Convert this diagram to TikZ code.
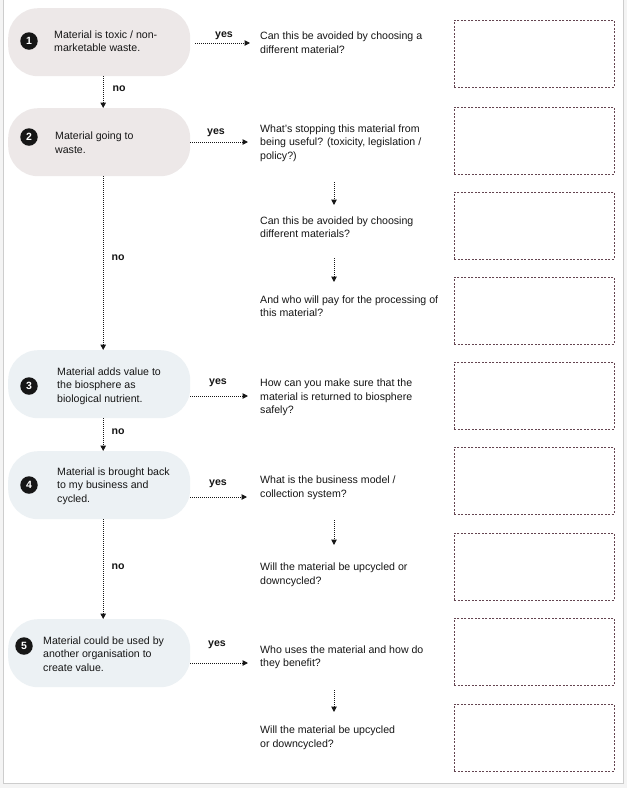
\documentclass[tikz,border=0pt]{standalone}
\usepackage{fontspec}
\setmainfont{Liberation Sans}
\usetikzlibrary{arrows.meta,calc}
\definecolor{pinkpill}{RGB}{237,232,232}
\definecolor{bluepill}{RGB}{236,241,244}
\definecolor{boxline}{RGB}{100,68,80}
\definecolor{frameline}{RGB}{205,205,205}
\definecolor{outside}{RGB}{244,244,244}
\definecolor{ink}{RGB}{22,22,22}
\begin{document}
\begin{tikzpicture}[x=1pt,y=-1pt,
 pill/.style={rounded corners=30pt, minimum width=182pt, minimum height=68pt, inner sep=0pt, anchor=north west},
 num/.style={circle, fill=ink, text=white, font=\fontsize{10.5}{10.5}\selectfont\bfseries, minimum size=17.5pt, inner sep=0pt},
 txt/.style={anchor=west, align=left, inner sep=0pt, text=ink, font=\fontsize{10.6}{13.5}\selectfont},
 lbl/.style={inner sep=0pt, text=ink, font=\fontsize{10.6}{12}\selectfont\bfseries},
 flow/.style={draw=ink, dash pattern=on 1pt off 1pt, line width=1pt, -{Triangle[length=5.5pt,width=5.5pt]}},
 answer/.style={draw=boxline, dash pattern=on 2pt off 1.5pt, line width=0.9pt, minimum width=160pt, minimum height=66.5pt, anchor=north west, inner sep=0pt}
]
\useasboundingbox (0,0) rectangle (627,788);
\fill[outside] (0,0) rectangle (627,788);
\filldraw[fill=white, draw=frameline, line width=1pt] (3.5,-3) rectangle (623,783.5);

% pills
\node[pill, fill=pinkpill] (p1) at (8,8) {};
\node[pill, fill=pinkpill] (p2) at (8,108) {};
\node[pill, fill=bluepill] (p3) at (8,350) {};
\node[pill, fill=bluepill] (p4) at (8,451) {};
\node[pill, fill=bluepill] (p5) at (8,619) {};

% numbers
\node[num] (c1) at (29,41) {1};
\node[num] (c2) at (29,137) {2};
\node[num] (c3) at (29,386) {3};
\node[num] (c4) at (29,485) {4};
\node[num] (c5) at (24,646) {5};

% pill texts
\node[txt] (t1) at (54,41) {Material is toxic / non-\\marketable waste.};
\node[txt] (t2) at (55,142.5) {Material going to\\waste.};
\node[txt] (t3) at (57,386) {Material adds value to\\the biosphere as\\biological nutrient.};
\node[txt] (t4) at (57,486) {Material is brought back\\to my business and\\cycled.};
\node[txt] (t5) at (43,654) {Material could be used by\\another organisation to\\create value.};

% questions
\node[txt] (q1) at (260,42.5) {Can this be avoided by choosing a\\different material?};
\node[txt] (q2) at (260,143) {What's stopping this material from\\being useful? (toxicity, legislation /\\policy?)};
\node[txt] (q2b) at (260,227) {Can this be avoided by choosing\\different materials?};
\node[txt] (q2c) at (260,306) {And who will pay for the processing of\\this material?};
\node[txt] (q3) at (260,397.5) {How can you make sure that the\\material is returned to biosphere\\safely?};
\node[txt] (q4) at (260,488) {What is the business model /\\collection system?};
\node[txt] (q4b) at (260,575) {Will the material be upcycled or\\downcycled?};
\node[txt] (q5) at (260,657.5) {Who uses the material and how do\\they benefit?};
\node[txt] (q5b) at (260,737.5) {Will the material be upcycled\\or downcycled?};

% answer boxes
\node[answer] (b1) at (454,20) {};
\node[answer] (b2) at (454,107) {};
\node[answer] (b3) at (454,192) {};
\node[answer] (b4) at (454,277) {};
\node[answer] (b5) at (454,362) {};
\node[answer] (b6) at (454,447) {};
\node[answer] (b7) at (454,533) {};
\node[answer] (b8) at (454,618) {};
\node[answer] (b9) at (454,704) {};

% yes arrows
\coordinate (e1) at (250,43);
\coordinate (e2) at (248,142);
\coordinate (e3) at (248,396);
\coordinate (e4) at (247,497);
\coordinate (e5) at (248,663);
\draw[flow] ($(p1.east |- e1)+(5,0)$) -- (e1);
\draw[flow] (p2.east |- e2) -- (e2);
\draw[flow] (p3.east |- e3) -- (e3);
\draw[flow] (p4.east |- e4) -- (e4);
\draw[flow] (p5.east |- e5) -- (e5);
\node[lbl] (y1) at (224,35.5) {yes};
\node[lbl] (y2) at (216,133) {yes};
\node[lbl] (y3) at (218,383) {yes};
\node[lbl] (y4) at (218,484) {yes};
\node[lbl] (y5) at (217,645) {yes};

% no arrows
\draw[flow] ([xshift=4pt]p1.south) -- ([xshift=4pt]p2.north);
\draw[flow] ([xshift=4pt]p2.south) -- ([xshift=4pt]p3.north);
\draw[flow] ([xshift=4pt]p3.south) -- ([xshift=4pt]p4.north);
\draw[flow] ([xshift=4pt]p4.south) -- ([xshift=4pt]p5.north);
\node[lbl] (n1) at (119,89) {no};
\node[lbl] (n2) at (118,258) {no};
\node[lbl] (n3) at (118,432) {no};
\node[lbl] (n4) at (118,567) {no};

% down arrows between questions
\coordinate (d1s) at (334,182); \coordinate (d1e) at (334,205);
\coordinate (d2s) at (334,258); \coordinate (d2e) at (334,282);
\coordinate (d3s) at (334,520); \coordinate (d3e) at (334,545);
\coordinate (d4s) at (334,690); \coordinate (d4e) at (334,712);
\draw[flow] (d1s) -- (d1e);
\draw[flow] (d2s) -- (d2e);
\draw[flow] (d3s) -- (d3e);
\draw[flow] (d4s) -- (d4e);
\end{tikzpicture}
\end{document}
